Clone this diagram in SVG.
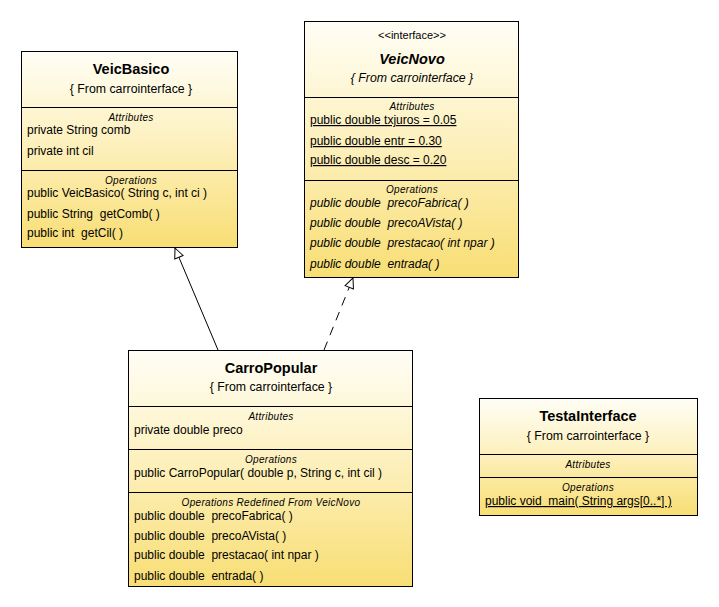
<svg xmlns="http://www.w3.org/2000/svg" width="719" height="607" viewBox="0 0 719 607">
<style>
text{font-family:"Liberation Sans",Arial,sans-serif;fill:#000;}
.box{stroke:#000;stroke-width:1;fill:url(#g);}
.sep{stroke:#000;stroke-width:1;}
.t{font-size:14.5px;font-weight:bold;text-anchor:middle;}
.f{font-size:12.3px;text-anchor:middle;}
.c{font-size:10px;font-style:italic;text-anchor:middle;letter-spacing:0.3px;}
.m{font-size:12px;}
.i{font-style:italic;}
.u{text-decoration:underline;}
.edge{stroke:#000;stroke-width:1;fill:none;}
</style>
<defs>
<linearGradient id="g" x1="0" y1="0" x2="0" y2="1">
<stop offset="0" stop-color="#fffef6"/>
<stop offset="0.45" stop-color="#fdf1c0"/>
<stop offset="1" stop-color="#f8de74"/>
</linearGradient>
<marker id="tri" viewBox="0 0 12 12" refX="11" refY="6" markerWidth="12" markerHeight="12" markerUnits="userSpaceOnUse" orient="auto">
<path d="M1,1.5 L11,6 L1,10.5 Z" fill="#fff" stroke="#000" stroke-width="1"/>
</marker>
</defs>
<rect width="719" height="607" fill="#fff"/>

<g id="connectors">
<line class="edge" x1="218" y1="350" x2="175" y2="248" marker-end="url(#tri)"/>
<line class="edge" x1="324" y1="350" x2="353" y2="278" stroke-dasharray="9,7" marker-end="url(#tri)"/>
</g>

<g id="VeicBasico">
<rect class="box" x="21.5" y="51.5" width="216" height="196"/>
<line class="sep" x1="21.5" y1="107.5" x2="237.5" y2="107.5"/>
<line class="sep" x1="21.5" y1="170.5" x2="237.5" y2="170.5"/>
<text class="t" x="131" y="74">VeicBasico</text>
<text class="f" x="131" y="93">{ From carrointerface }</text>
<text class="c" x="131" y="121">Attributes</text>
<text class="m" x="27" y="134">private String comb</text>
<text class="m" x="27" y="155">private int cil</text>
<text class="c" x="131" y="184">Operations</text>
<text class="m" x="27" y="197">public VeicBasico( String c, int ci )</text>
<text class="m" x="27" y="218" xml:space="preserve">public String  getComb( )</text>
<text class="m" x="27" y="237" xml:space="preserve">public int  getCil( )</text>
</g>

<g id="VeicNovo">
<rect class="box" x="304.5" y="21.5" width="214" height="256"/>
<line class="sep" x1="304.5" y1="97.5" x2="518.5" y2="97.5"/>
<line class="sep" x1="304.5" y1="180.5" x2="518.5" y2="180.5"/>
<text class="f" x="412" y="39" style="font-size:11px">&lt;&lt;interface&gt;&gt;</text>
<text class="t i" x="412" y="64">VeicNovo</text>
<text class="f i" x="412" y="82">{ From carrointerface }</text>
<text class="c" x="412" y="110">Attributes</text>
<text class="m u" x="310" y="124">public double txjuros = 0.05</text>
<text class="m u" x="310" y="145">public double entr = 0.30</text>
<text class="m u" x="310" y="164">public double desc = 0.20</text>
<text class="c" x="412" y="193">Operations</text>
<text class="m i" x="310" y="207" xml:space="preserve">public double  precoFabrica( )</text>
<text class="m i" x="310" y="227" xml:space="preserve">public double  precoAVista( )</text>
<text class="m i" x="310" y="247" xml:space="preserve">public double  prestacao( int npar )</text>
<text class="m i" x="310" y="268" xml:space="preserve">public double  entrada( )</text>
</g>

<g id="CarroPopular">
<rect class="box" x="128.5" y="350.5" width="284" height="236"/>
<line class="sep" x1="128.5" y1="406.5" x2="412.5" y2="406.5"/>
<line class="sep" x1="128.5" y1="449.5" x2="412.5" y2="449.5"/>
<line class="sep" x1="128.5" y1="492.5" x2="412.5" y2="492.5"/>
<text class="t" x="271" y="373">CarroPopular</text>
<text class="f" x="271" y="391">{ From carrointerface }</text>
<text class="c" x="271" y="420">Attributes</text>
<text class="m" x="134" y="434">private double preco</text>
<text class="c" x="271" y="463">Operations</text>
<text class="m" x="134" y="477">public CarroPopular( double p, String c, int cil )</text>
<text class="c" x="271" y="506">Operations Redefined From VeicNovo</text>
<text class="m" x="134" y="520" xml:space="preserve">public double  precoFabrica( )</text>
<text class="m" x="134" y="540" xml:space="preserve">public double  precoAVista( )</text>
<text class="m" x="134" y="559" xml:space="preserve">public double  prestacao( int npar )</text>
<text class="m" x="134" y="580" xml:space="preserve">public double  entrada( )</text>
</g>

<g id="TestaInterface">
<rect class="box" x="479.5" y="398.5" width="218" height="117"/>
<line class="sep" x1="479.5" y1="454.5" x2="697.5" y2="454.5"/>
<line class="sep" x1="479.5" y1="477.5" x2="697.5" y2="477.5"/>
<text class="t" x="588" y="421">TestaInterface</text>
<text class="f" x="588" y="440">{ From carrointerface }</text>
<text class="c" x="588" y="468">Attributes</text>
<text class="c" x="588" y="491">Operations</text>
<text class="m u" x="485" y="505" xml:space="preserve">public void  main( String args[0..*] )</text>
</g>
</svg>
